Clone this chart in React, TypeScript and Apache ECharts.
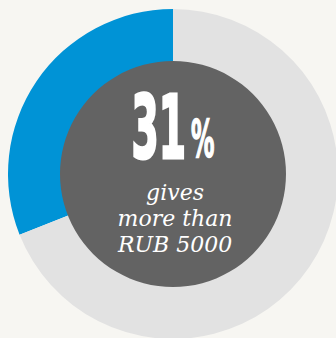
import React, { useEffect, useRef } from "react";
import * as echarts from "echarts";

const categories = ["gives more than RUB 5000", "other"];
const shares = [31, 69];
const sliceColors = ["#0093d6", "#e2e2e2"];
const headline = "31";
const headlineUnit = "%";
const captionLines = ["gives", "more than", "RUB 5000"];

export default function App() {
  const ref = useRef<HTMLDivElement>(null);
  useEffect(() => {
    if (!ref.current) return;
    const chart = echarts.init(ref.current, undefined, { renderer: "svg" });
    const cx = 173;
    const cy = 174;
    chart.setOption({
      animation: false,
      backgroundColor: "#f7f6f2",
      series: [
        {
          type: "pie",
          center: [cx, cy],
          radius: [112, 165],
          startAngle: 90,
          clockwise: false,
          silent: true,
          label: { show: false },
          labelLine: { show: false },
          data: categories.map((c, i) => ({
            name: c,
            value: shares[i],
            itemStyle: { color: sliceColors[i] },
          })),
        },
        {
          type: "pie",
          center: [cx, cy],
          radius: [0, 113],
          silent: true,
          label: { show: false },
          labelLine: { show: false },
          data: [{ name: "centre", value: 1, itemStyle: { color: "#636363" } }],
        },
      ],
      graphic: {
        elements: [
          {
            type: "text",
            z: 100,
            x: 186,
            y: 84,
            scaleX: 0.5,
            style: {
              text: headline,
              fill: "#ffffff",
              stroke: "#ffffff",
              lineWidth: 3,
              font: "bold 87px 'DejaVu Sans Condensed', 'DejaVu Sans', sans-serif",
              align: "right",
              verticalAlign: "top",
            },
          },
          {
            type: "text",
            z: 100,
            x: 191,
            y: 113,
            scaleX: 0.5,
            style: {
              text: headlineUnit,
              fill: "#ffffff",
              stroke: "#ffffff",
              lineWidth: 1.5,
              font: "bold 52px 'DejaVu Sans Condensed', 'DejaVu Sans', sans-serif",
              align: "left",
              verticalAlign: "top",
            },
          },
          ...captionLines.map((t, i) => ({
            type: "text",
            z: 100,
            x: 175,
            y: 181 + i * 26.4,
            style: {
              text: t,
              fill: "#ffffff",
              font: "italic 22px 'DejaVu Serif', serif",
              align: "center",
              verticalAlign: "top",
            },
          })),
        ],
      },
    });
    return () => chart.dispose();
  }, []);
  return <div ref={ref} style={{ width: 336, height: 338, position: "absolute", left: 0, top: 0 }} />;
}
